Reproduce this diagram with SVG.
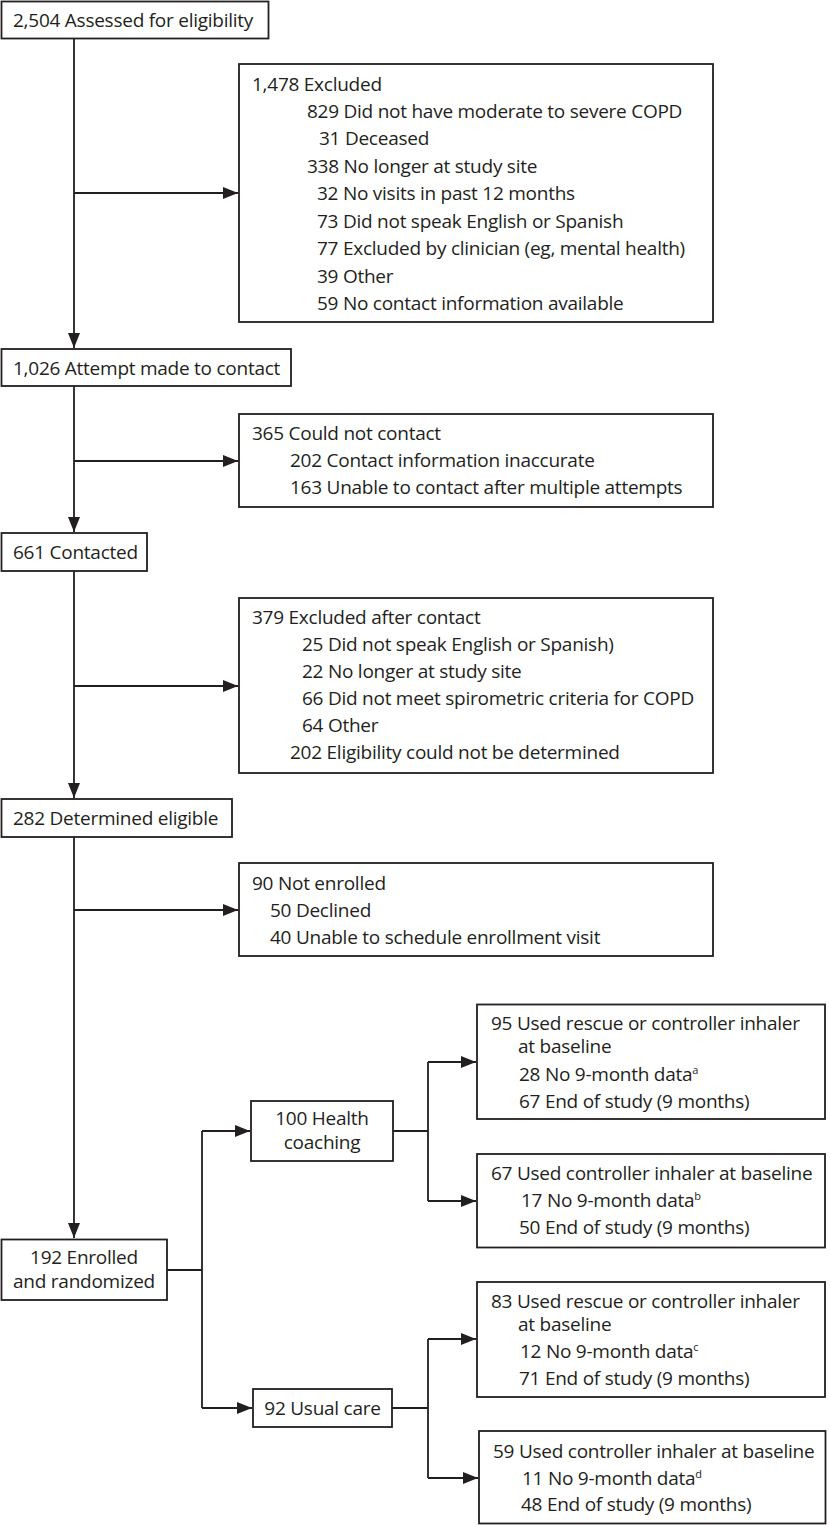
<svg xmlns="http://www.w3.org/2000/svg" width="830" height="1525" viewBox="0 0 830 1525">
<style>
.box{fill:#fff;stroke:#231f20;stroke-width:1.8}
.ln{fill:none;stroke:#231f20;stroke-width:1.8}
text{font-family:"Open Sans","Noto Sans","Liberation Sans",sans-serif;font-size:19px;letter-spacing:-0.25px;fill:#231f20}
.c{text-anchor:middle}
.sup{font-size:11px}
</style>
<defs>
<marker id="ah" markerUnits="userSpaceOnUse" markerWidth="16" markerHeight="14" refX="15" refY="7" orient="auto">
<path d="M0,1 L15,7 L0,13 Z" fill="#231f20"/>
</marker>
</defs>
<rect width="830" height="1525" fill="#fff"/>
<g id="connectors">
<path class="ln" d="M74,38 V348" marker-end="url(#ah)"/>
<path class="ln" d="M74,193 H238" marker-end="url(#ah)"/>
<path class="ln" d="M74,386 V532" marker-end="url(#ah)"/>
<path class="ln" d="M74,461 H238" marker-end="url(#ah)"/>
<path class="ln" d="M74,571 V798" marker-end="url(#ah)"/>
<path class="ln" d="M74,686 H238" marker-end="url(#ah)"/>
<path class="ln" d="M74,837 V1238" marker-end="url(#ah)"/>
<path class="ln" d="M74,910 H238" marker-end="url(#ah)"/>
<path class="ln" d="M167,1270 H202 M202,1131 V1408"/>
<path class="ln" d="M202,1131 H250" marker-end="url(#ah)"/>
<path class="ln" d="M202,1408 H252" marker-end="url(#ah)"/>
<path class="ln" d="M393,1131 H428 M428,1062 V1201"/>
<path class="ln" d="M428,1062 H476" marker-end="url(#ah)"/>
<path class="ln" d="M428,1201 H476" marker-end="url(#ah)"/>
<path class="ln" d="M392,1408 H428 M428,1339 V1478"/>
<path class="ln" d="M428,1339 H476" marker-end="url(#ah)"/>
<path class="ln" d="M428,1478 H478" marker-end="url(#ah)"/>
</g>
<g id="assessed">
<rect class="box" x="1.5" y="1.5" width="267" height="37"/>
<text x="13" y="27">2,504 Assessed for eligibility</text>
</g>
<g id="excluded">
<rect class="box" x="239" y="64" width="474" height="258"/>
<text x="252" y="91">1,478 Excluded</text>
<text x="307" y="118">829 Did not have moderate to severe COPD</text>
<text x="319" y="145">31 Deceased</text>
<text x="307" y="173">338 No longer at study site</text>
<text x="317" y="200">32 No visits in past 12 months</text>
<text x="317" y="228">73 Did not speak English or Spanish</text>
<text x="317" y="255">77 Excluded by clinician (eg, mental health)</text>
<text x="317" y="283">39 Other</text>
<text x="317" y="310">59 No contact information available</text>
</g>
<g id="attempt">
<rect class="box" x="1.5" y="349" width="289.5" height="37"/>
<text x="13" y="375">1,026 Attempt made to contact</text>
</g>
<g id="couldnot">
<rect class="box" x="239" y="414" width="474" height="93"/>
<text x="252" y="440">365 Could not contact</text>
<text x="290" y="467">202 Contact information inaccurate</text>
<text x="290" y="494">163 Unable to contact after multiple attempts</text>
</g>
<g id="contacted">
<rect class="box" x="1.5" y="533" width="145.5" height="38"/>
<text x="13" y="559">661 Contacted</text>
</g>
<g id="excludedafter">
<rect class="box" x="239" y="598" width="474" height="175"/>
<text x="252" y="624">379 Excluded after contact</text>
<text x="302" y="651">25 Did not speak English or Spanish)</text>
<text x="302" y="678">22 No longer at study site</text>
<text x="302" y="705">66 Did not meet spirometric criteria for COPD</text>
<text x="302" y="732">64 Other</text>
<text x="290" y="759">202 Eligibility could not be determined</text>
</g>
<g id="eligible">
<rect class="box" x="1.5" y="799" width="230.5" height="38"/>
<text x="13" y="825">282 Determined eligible</text>
</g>
<g id="notenrolled">
<rect class="box" x="239" y="863" width="474" height="93"/>
<text x="252" y="890">90 Not enrolled</text>
<text x="270" y="917">50 Declined</text>
<text x="270" y="944">40 Unable to schedule enrollment visit</text>
</g>
<g id="enrolled">
<rect class="box" x="1.5" y="1239.5" width="165.5" height="60.5"/>
<text class="c" x="84" y="1264">192 Enrolled</text>
<text class="c" x="84" y="1288">and randomized</text>
</g>
<g id="healthcoaching">
<rect class="box" x="251" y="1101" width="142" height="60"/>
<text class="c" x="322" y="1125">100 Health</text>
<text class="c" x="322" y="1149">coaching</text>
</g>
<g id="usualcare">
<rect class="box" x="253" y="1389" width="139" height="38"/>
<text class="c" x="322.5" y="1415">92 Usual care</text>
</g>
<g id="hc-rescue">
<rect class="box" x="477" y="1004.5" width="348" height="114.5"/>
<text x="491" y="1030">95 Used rescue or controller inhaler</text>
<text x="518" y="1053">at baseline</text>
<text x="519" y="1081">28 No 9-month data<tspan class="sup" dy="-7">a</tspan></text>
<text x="519" y="1108">67 End of study (9 months)</text>
</g>
<g id="hc-controller">
<rect class="box" x="477" y="1154" width="348" height="93.5"/>
<text x="491" y="1180">67 Used controller inhaler at baseline</text>
<text x="521" y="1207">17 No 9-month data<tspan class="sup" dy="-7">b</tspan></text>
<text x="519" y="1234">50 End of study (9 months)</text>
</g>
<g id="uc-rescue">
<rect class="box" x="477" y="1282" width="348" height="115"/>
<text x="491" y="1308">83 Used rescue or controller inhaler</text>
<text x="518" y="1331">at baseline</text>
<text x="520" y="1358">12 No 9-month data<tspan class="sup" dy="-7">c</tspan></text>
<text x="519" y="1385">71 End of study (9 months)</text>
</g>
<g id="uc-controller">
<rect class="box" x="479" y="1431" width="346.5" height="92.5"/>
<text x="493" y="1458">59 Used controller inhaler at baseline</text>
<text x="522" y="1485">11 No 9-month data<tspan class="sup" dy="-7">d</tspan></text>
<text x="521" y="1511">48 End of study (9 months)</text>
</g>
</svg>
